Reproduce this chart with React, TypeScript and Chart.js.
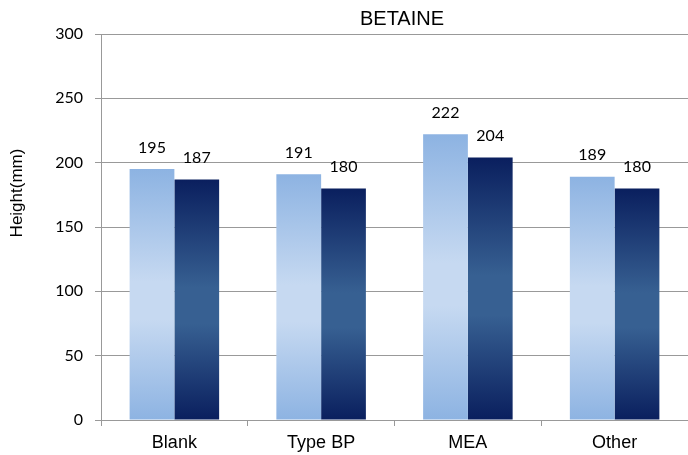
import React, { useEffect, useRef } from "react";
import { Chart, registerables } from "chart.js";

Chart.register(...registerables);

const categories = ["Blank", "Type BP", "MEA", "Other"];
const seriesA = [195, 191, 222, 189];
const seriesB = [187, 180, 204, 180];
const yTicks = { min: 0, max: 300, step: 50 };
const titleText = "BETAINE";
const yAxisTitle = "Height(mm)";

const lightStops: [number, string][] = [
  [0, "#8db3e2"],
  [0.45, "#c6d9f1"],
  [0.6, "#c6d9f1"],
  [1, "#8db3e2"],
];
const darkStops: [number, string][] = [
  [0, "#0a1f5e"],
  [0.45, "#376092"],
  [0.6, "#376092"],
  [1, "#0a1f5e"],
];

function gradientFor(stops: [number, string][]) {
  return (ctx: any) => {
    const chart = ctx.chart;
    const y = chart.scales?.y;
    if (!y || !chart.chartArea) return stops[0][1];
    const v = ctx.raw as number;
    const top = y.getPixelForValue(v);
    const bot = y.getPixelForValue(0);
    if (!isFinite(top) || !isFinite(bot) || top === bot) return stops[0][1];
    const g = chart.ctx.createLinearGradient(0, top, 0, bot);
    stops.forEach(([o, c]) => g.addColorStop(o, c));
    return g;
  };
}

const textPlugin = {
  id: "textPlugin",
  afterDatasetsDraw(chart: any) {
    const c = chart.ctx;
    c.save();
    c.fillStyle = "#000";
    c.font = "16px Lato";
    c.textAlign = "center";
    c.textBaseline = "alphabetic";
    chart.data.datasets.forEach((ds: any, i: number) => {
      const meta = chart.getDatasetMeta(i);
      meta.data.forEach((el: any, j: number) => {
        c.fillText(String(ds.data[j]), el.x, el.y - 16.5);
      });
    });
    // title
    c.font = "20px 'Liberation Sans'";
    c.fillText(titleText, 402, 25);
    // y axis title
    c.save();
    c.translate(17, 193);
    c.rotate(-Math.PI / 2);
    c.font = "17px 'Liberation Sans'";
    c.textBaseline = "middle";
    c.fillText(yAxisTitle, 0, 0);
    c.restore();
    c.restore();
  },
};

export default function App() {
  const ref = useRef<HTMLCanvasElement>(null);
  useEffect(() => {
    document.body.style.margin = "0";
    const chart = new Chart(ref.current!, {
      type: "bar",
      data: {
        labels: categories,
        datasets: [
          {
            data: seriesA,
            backgroundColor: gradientFor(lightStops),
            categoryPercentage: 0.61,
            barPercentage: 1,
          },
          {
            data: seriesB,
            backgroundColor: gradientFor(darkStops),
            categoryPercentage: 0.61,
            barPercentage: 1,
          },
        ],
      },
      options: {
        animation: false,
        responsive: false,
        layout: { padding: { top: 34, right: 0, left: 0, bottom: 0 } },
        plugins: {
          legend: { display: false },
          title: { display: false },
          tooltip: { enabled: false },
        },
        scales: {
          x: {
            grid: {
              offset: true,
              drawOnChartArea: false,
              drawTicks: true,
              tickLength: 6,
              color: "#999999",
            },
            border: { color: "#999999" },
            ticks: {
              color: "#000",
              padding: 6,
              font: { family: "'Liberation Sans'", size: 18 },
            },
            afterFit: (s: any) => {
              s.height = 35;
            },
          },
          y: {
            min: yTicks.min,
            max: yTicks.max,
            ticks: {
              stepSize: yTicks.step,
              color: "#000",
              padding: 12,
              font: { family: "Lato", size: 16 },
            },
            grid: { color: "#999999", tickLength: 6 },
            border: { color: "#999999" },
            afterFit: (s: any) => {
              s.width = 101;
            },
          },
        },
      },
      plugins: [textPlugin],
    });
    return () => chart.destroy();
  }, []);
  return (
    <div style={{ width: 688, height: 455 }}>
      <canvas ref={ref} width={688} height={455} />
    </div>
  );
}
